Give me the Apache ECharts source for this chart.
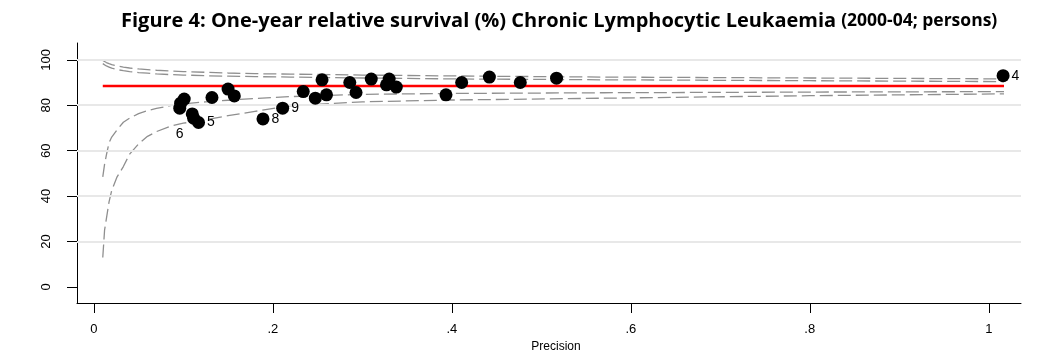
<!DOCTYPE html>
<html><head><meta charset="utf-8">
<script src="https://cdn.jsdelivr.net/npm/echarts@6/dist/echarts.min.js"></script>
<style>html,body{margin:0;padding:0;background:#fff}#c{width:1038px;height:352px}</style>
</head><body><div id="c"></div>
<script>
const titleMain = 'Figure 4: One-year relative survival (%) Chronic Lymphocytic Leukaemia';
const titleSub = '(2000-04; persons)';
const xAxisName = 'Precision';
const xTicks = [0, 0.2, 0.4, 0.6, 0.8, 1];
const xTickLabels = ['0', '.2', '.4', '.6', '.8', '1'];
const yTicks = [0, 20, 40, 60, 80, 100];
const yGridLines = [20, 40, 60, 80, 100];

// observed points
const precision = [0.101, 0.097, 0.096, 0.110, 0.1115, 0.117, 0.132, 0.150, 0.157, 0.189, 0.211,
  0.234, 0.2475, 0.255, 0.260, 0.286, 0.293, 0.310, 0.330, 0.327, 0.338, 0.3935, 0.411, 0.442, 0.4765, 0.517, 1.016];
const survival = [82.7, 80.9, 78.7, 76.2, 74.3, 72.4, 83.4, 87.1, 84.1, 74.0, 78.7,
  86.0, 83.1, 91.2, 84.6, 90.0, 85.6, 91.5, 91.5, 89.0, 88.0, 84.6, 90.0, 92.4, 90.0, 91.9, 93.0];
const pointLabels = ['', '', '', '', '6', '5', '', '', '', '8', '9',
  '', '', '', '', '', '', '', '', '', '', '', '', '', '', '', '4'];

// overall mean line
const meanSurvival = 88.5;
const meanRange = [0.010, 1.017];

// funnel control limits
const limitPrecision = [0.010, 0.012, 0.014, 0.017, 0.020, 0.026, 0.033, 0.040, 0.050, 0.060, 0.070,
  0.085, 0.100, 0.125, 0.150, 0.180, 0.220, 0.300, 0.400, 0.570, 0.800, 1.017];
const lowerOuter = [13, 25, 30, 37.5, 42.5, 48.5, 53, 58.5, 63, 66.3, 68.4,
  70.7, 72.1, 73.6, 75.4, 77.3, 79.8, 81.5, 82.3, 83.1, 84.2, 85.0];
const lowerInner = [48.5, 54, 58, 63.5, 66, 69.2, 72.5, 74.3, 76.3, 77.6, 78.6,
  79.8, 80.6, 81.5, 82.2, 83.0, 83.8, 84.8, 85.2, 85.5, 85.8, 86.0];
const upperInner = [98.3, 97.8, 97.3, 96.8, 96.3, 95.7, 95.2, 94.8, 94.4, 94.1, 93.8,
  93.5, 93.3, 93.0, 92.8, 92.6, 92.4, 92.0, 91.6, 91.2, 90.8, 90.4];
const upperOuter = [99.7, 99.2, 98.8, 98.3, 97.9, 97.3, 96.8, 96.4, 96.0, 95.7, 95.4,
  95.1, 94.8, 94.5, 94.2, 93.9, 93.7, 93.3, 92.9, 92.4, 92.0, 91.6];

const FONT = '"Liberation Sans", Arial, sans-serif';
const chart = echarts.init(document.getElementById('c'), null, {renderer: 'canvas'});

function limitSeries(vals) {
  return {
    type: 'line', z: 3, silent: true, showSymbol: false, symbol: 'none',
    data: limitPrecision.map((p, i) => [p, vals[i]]),
    lineStyle: {color: '#8f8f8f', width: 1.3, type: [13, 5]}
  };
}

const pointData = precision.map((p, i) => {
  const lab = pointLabels[i];
  const item = {value: [p, survival[i]]};
  if (lab) {
    item.label = lab === '6'
      ? {show: true, formatter: lab, position: 'bottom', distance: 0, offset: [-14, 2]}
      : {show: true, formatter: lab, position: 'right', distance: 2};
  }
  return item;
});

chart.setOption({
  animation: false,
  backgroundColor: '#fff',
  title: {
    left: 116, top: 6,
    text: '{a|' + titleMain + '} {b|' + titleSub + '}',
    textStyle: {
      rich: {
        a: {fontFamily: '"Open Sans", sans-serif', fontWeight: 'bold', fontSize: 20, color: '#000'},
        b: {fontFamily: '"Open Sans", sans-serif', fontWeight: 'bold', fontSize: 17.5, color: '#000'}
      }
    }
  },
  grid: {left: 77, right: 17, top: 43, bottom: 49, containLabel: false, outerBoundsMode: 'none'},
  xAxis: {
    type: 'value', min: -0.0188, max: 1.036,
    name: xAxisName, nameLocation: 'middle', nameGap: 35,
    nameTextStyle: {fontFamily: FONT, fontSize: 12, color: '#000', padding: [0, 0, 0, 14]},
    axisLine: {onZero: false, lineStyle: {color: '#000', width: 1}},
    axisTick: {show: true, length: 10, customValues: xTicks, lineStyle: {color: '#000', width: 1}},
    axisLabel: {customValues: xTicks, margin: 20, fontFamily: FONT, fontSize: 13, color: '#000',
      formatter: v => { const i = xTicks.findIndex(t => Math.abs(t - v) < 1e-9); return i >= 0 ? xTickLabels[i] : ''; }},
    splitLine: {show: false}
  },
  yAxis: {
    type: 'value', min: -7.05, max: 107.4,
    axisLine: {show: true, onZero: false, lineStyle: {color: '#000', width: 1}},
    axisTick: {show: true, length: 10, customValues: yTicks, lineStyle: {color: '#000', width: 1}},
    axisLabel: {customValues: yTicks, rotate: 90, margin: 24, fontFamily: FONT, fontSize: 13, color: '#000'},
    splitLine: {show: false}
  },
  series: [
    {
      type: 'line', z: 1, silent: true, data: [],
      markLine: {
        silent: true, symbol: 'none', label: {show: false},
        lineStyle: {color: '#e8e8e8', width: 2, type: 'solid'},
        data: yGridLines.map(v => ({yAxis: v}))
      }
    },
    limitSeries(upperOuter),
    limitSeries(upperInner),
    limitSeries(lowerInner),
    limitSeries(lowerOuter),
    {
      type: 'line', z: 4, silent: true, showSymbol: false, symbol: 'none',
      data: meanRange.map(p => [p, meanSurvival]),
      lineStyle: {color: '#ff0000', width: 2.5}
    },
    {
      type: 'scatter', z: 5, symbol: 'circle', symbolSize: 13,
      itemStyle: {color: '#000', opacity: 1},
      label: {show: false, fontFamily: FONT, fontSize: 14, color: '#000'},
      data: pointData
    }
  ]
});
</script>
</body></html>
